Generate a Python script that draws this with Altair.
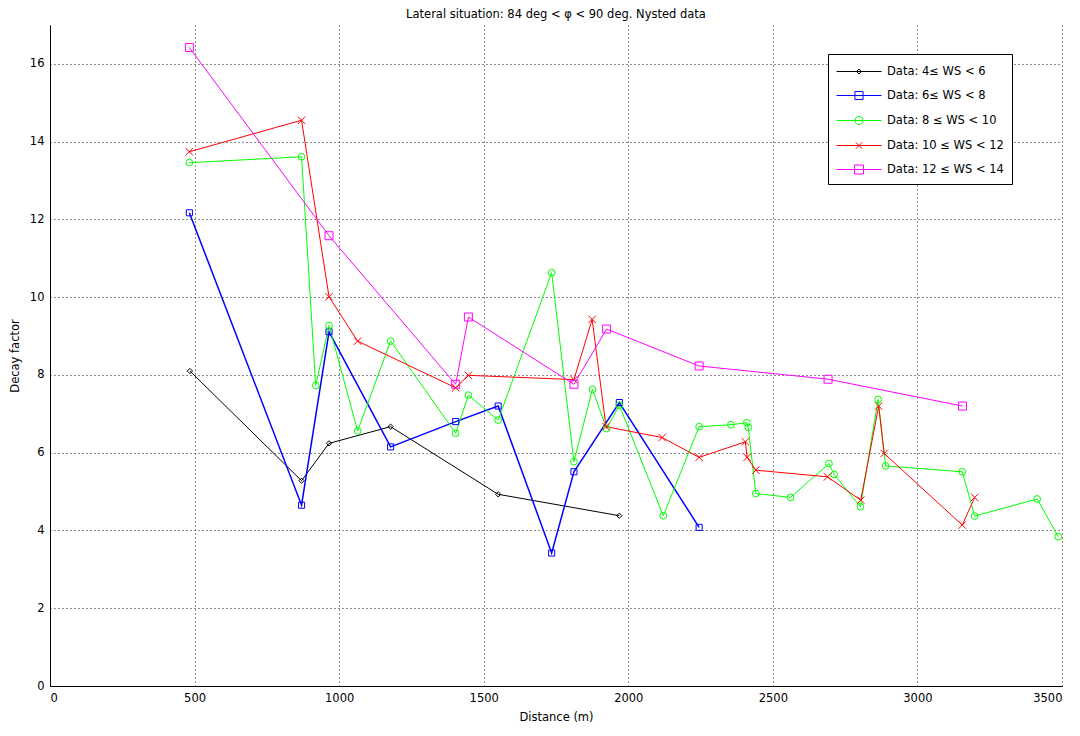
import altair as alt
import pandas as pd

series_labels = [
    "Data: 4\u2264 WS < 6",
    "Data: 6\u2264 WS < 8",
    "Data: 8 \u2264 WS < 10",
    "Data: 10 \u2264 WS < 12",
    "Data: 12 \u2264 WS < 14",
]

ws4_x = [484, 870, 965, 1178, 1550, 1969]
ws4_y = [8.10, 5.28, 6.24, 6.67, 4.93, 4.38]

ws6_x = [482, 870, 965, 1178, 1403, 1550, 1735, 1812, 1969, 2245]
ws6_y = [12.17, 4.65, 9.11, 6.15, 6.80, 7.20, 3.42, 5.51, 7.29, 4.08]

ws8_x = [482, 870, 919, 965, 1064, 1178, 1403, 1447, 1550, 1735, 1812, 1876, 1925,
         1969, 2121, 2245, 2355, 2410, 2415, 2441, 2561, 2694, 2712, 2803, 2864,
         2890, 3155, 3198, 3414, 3487]
ws8_y = [13.46, 13.61, 7.73, 9.27, 6.56, 8.87, 6.50, 7.48, 6.84, 10.63, 5.77, 7.63, 6.62,
         7.22, 4.38, 6.67, 6.72, 6.77, 6.65, 4.95, 4.85, 5.72, 5.44, 4.61, 7.37,
         5.66, 5.51, 4.37, 4.81, 3.84]

ws10_x = [482, 870, 965, 1064, 1403, 1447, 1812, 1875, 1923, 2117, 2245, 2405, 2411,
          2441, 2689, 2804, 2866, 2885, 3155, 3198]
ws10_y = [13.74, 14.55, 10.01, 8.87, 7.67, 7.99, 7.88, 9.43, 6.67, 6.39, 5.88, 6.28, 5.88,
          5.55, 5.38, 4.78, 7.20, 5.98, 4.14, 4.85]

ws12_x = [482, 965, 1403, 1447, 1812, 1925, 2245, 2691, 3156]
ws12_y = [16.42, 11.58, 7.76, 9.49, 7.76, 9.18, 8.23, 7.89, 7.20]

x_ticks = [0, 500, 1000, 1500, 2000, 2500, 3000, 3500]
y_ticks = [0, 2, 4, 6, 8, 10, 12, 14, 16]

colors = ["#000000", "#0000ff", "#00ff00", "#ff0000", "#ff00ff"]
shapes = [
    "M0,-1L1,0L0,1L-1,0Z",
    "M-1,-1L1,-1L1,1L-1,1Z",
    "circle",
    "M-1,-1L1,1M-1,1L1,-1",
    "M-1,-1L1,-1L1,1L-1,1Z",
]
sizes = [28, 64, 64, 44, 80]

# legend symbols: line from x=-1 to x=4 (units), marker centred at x=1.5
legend_shapes = [
    "M-1,0L4,0M1.5,-0.28L1.78,0L1.5,0.28L1.22,0Z",
    "M-1,0L4,0M1.05,-0.45L1.95,-0.45L1.95,0.45L1.05,0.45Z",
    "M-1,0L4,0M1.05,0A0.45,0.45 0 1,0 1.95,0A0.45,0.45 0 1,0 1.05,0Z",
    "M-1,0L4,0M1.15,-0.35L1.85,0.35M1.15,0.35L1.85,-0.35",
    "M-1,0L4,0M1,-0.5L2,-0.5L2,0.5L1,0.5Z",
]

rows = []
for lab, xs, ys in zip(series_labels,
                       [ws4_x, ws6_x, ws8_x, ws10_x, ws12_x],
                       [ws4_y, ws6_y, ws8_y, ws10_y, ws12_y]):
    for i, (xv, yv) in enumerate(zip(xs, ys)):
        rows.append({"series": lab, "distance": xv, "decay": yv, "order": i})
df = pd.DataFrame(rows)

FONT = "DejaVu Sans"
FS = 11.5

x_enc = alt.X("distance:Q", scale=alt.Scale(domain=[0, 3500], nice=False),
              axis=alt.Axis(values=x_ticks, title="Distance (m)", format="d", orient="bottom"))
y_enc = alt.Y("decay:Q", scale=alt.Scale(domain=[0, 17], nice=False),
              axis=alt.Axis(values=y_ticks, title="Decay factor", format="d", orient="left"))
color_scale = alt.Scale(domain=series_labels, range=colors)

base = alt.Chart(df)

lines = base.mark_line().encode(
    x=x_enc, y=y_enc,
    color=alt.Color("series:N", scale=color_scale, legend=None),
    strokeWidth=alt.condition(alt.datum.series == series_labels[1], alt.value(1.5), alt.value(1)),
    order="order:Q",
)

points = base.mark_point(filled=False, strokeWidth=1, opacity=1).encode(
    x=x_enc, y=y_enc,
    color=alt.Color("series:N", scale=color_scale, legend=None),
    shape=alt.Shape("series:N", scale=alt.Scale(domain=series_labels, range=shapes), legend=None),
    size=alt.Size("series:N", scale=alt.Scale(domain=series_labels, range=sizes), legend=None),
)

leg = alt.Legend(
    title=None, orient="none", legendX=778, legendY=29,
    strokeColor="#000000", fillColor="#ffffff", padding=8,
    symbolSize=324, symbolStrokeWidth=1, symbolOpacity=1,
    labelFont=FONT, labelFontSize=FS, labelColor="#000000",
    labelOffset=32, rowPadding=9,
)

legend_layer = base.mark_point(filled=False, opacity=0, size=324, strokeWidth=1).encode(
    x=x_enc, y=y_enc,
    color=alt.Color("series:N", scale=color_scale, legend=leg),
    shape=alt.Shape("series:N", scale=alt.Scale(domain=series_labels, range=legend_shapes), legend=leg),
)

chart = alt.layer(lines, points, legend_layer).resolve_scale(
    shape="independent"
).resolve_legend(
    color="independent", shape="independent"
).properties(
    width=1012, height=661,
    title=alt.TitleParams("Lateral situation: 84 deg < \u03c6 < 90 deg. Nysted data",
                          font=FONT, fontSize=FS, fontWeight="normal", color="#000000",
                          offset=5, anchor="middle"),
    autosize=alt.AutoSizeParams(type="none"),
    padding={"left": 42, "top": 17, "right": 10, "bottom": 42},
).configure_view(
    stroke=None
).configure_axis(
    labelFont=FONT, labelFontSize=FS, labelColor="#000000",
    titleFont=FONT, titleFontSize=FS, titleFontWeight="normal", titleColor="#000000",
    domainColor="#000000", domainWidth=1,
    grid=True, gridColor="#000000", gridDash=[1, 3], gridOpacity=0.9, gridWidth=1,
    ticks=False, labelPadding=6,
).configure_axisX(
    titlePadding=8,
).configure_axisY(
    titlePadding=9,
)

chart.save("out.html", embed_options={"renderer": "svg", "actions": False})
